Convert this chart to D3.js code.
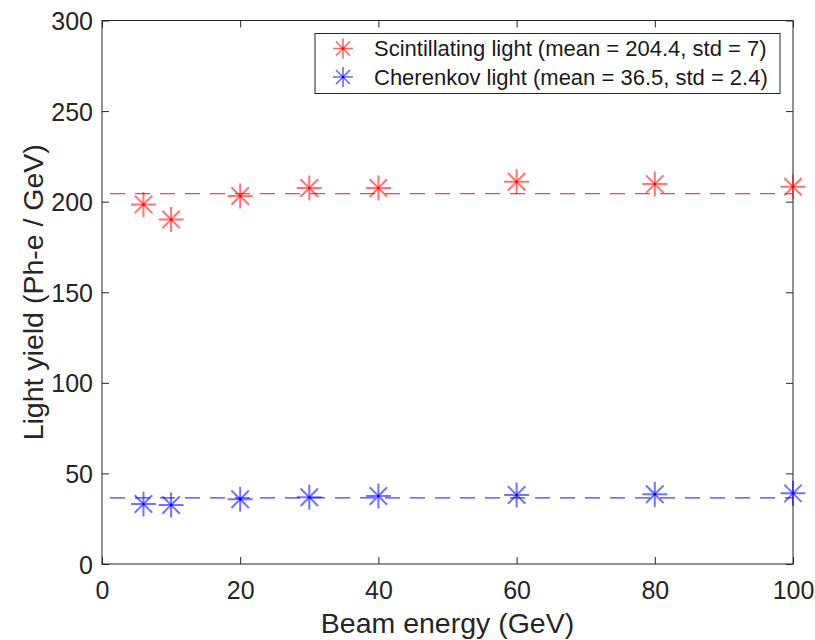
<!DOCTYPE html>
<meta charset="utf-8">
<style>
 body {
   margin: 0;
   background-color: #fff;
 }

 svg {
   font-family: "Liberation Sans", Arial, Helvetica, sans-serif;
   display: block;
 }

 .axis line, .axis path, .frame {
   stroke: #262626;
   stroke-width: 1;
   fill: none;
 }

 .axis text {
   fill: #262626;
   font-size: 25px;
 }

 .label {
   fill: #262626;
   font-size: 28.5px;
 }

 .legend text {
   fill: #1a1a1a;
   font-size: 22px;
 }
</style>

<svg width="815" height="640"></svg>

<script src="https://cdn.jsdelivr.net/npm/d3@7"></script>
<script>

 // beam energies (GeV)
 var energies = [6, 10, 20, 30, 40, 60, 80, 100]
 // light yield (Ph-e / GeV)
 var scintYield = [198.5, 190.2, 203.1, 207.5, 207.5, 211.0, 209.7, 208.2]
 var cherenYield = [33.1, 32.6, 35.7, 36.8, 37.5, 38.1, 38.5, 39.0]
 var scintMean = 204.4
 var cherenMean = 36.5
 var xTicks = [0, 20, 40, 60, 80, 100]
 var yTicks = [0, 50, 100, 150, 200, 250, 300]
 var legendLabels = ['Scintillating light (mean = 204.4, std = 7)',
                     'Cherenkov light (mean = 36.5, std = 2.4)']

 var series = [
   {name: legendLabels[0], color: '#ff0000', values: scintYield, mean: scintMean},
   {name: legendLabels[1], color: '#0000ff', values: cherenYield, mean: cherenMean}
 ]

 var svg = d3.select('svg')
 var margin = {top: 20.5, right: 22, bottom: 76, left: 102}
 var width = 815 - margin.left - margin.right
 var height = 640 - margin.top - margin.bottom

 var g = svg.append('g')
            .attr('transform', `translate(${margin.left},${margin.top})`)

 var x = d3.scaleLinear().domain([0, 100]).range([0, width])
 var y = d3.scaleLinear().domain([0, 300]).range([height, 0])

 // box around the axes
 g.append('rect')
  .attr('class', 'frame')
  .attr('width', width)
  .attr('height', height)

 var tickLen = 7

 g.append('g')
  .attr('class', 'axis')
  .attr('transform', `translate(0,${height})`)
  .call(d3.axisBottom(x).tickValues(xTicks).tickSizeInner(-tickLen).tickSizeOuter(0))
  .call(a => a.selectAll('text').attr('dy', '0.71em').attr('y', 17))

 g.append('g')
  .attr('class', 'axis')
  .call(d3.axisTop(x).tickValues(xTicks).tickSizeInner(-tickLen).tickSizeOuter(0))
  .call(a => a.selectAll('text').remove())

 g.append('g')
  .attr('class', 'axis')
  .call(d3.axisLeft(y).tickValues(yTicks).tickSizeInner(-tickLen).tickSizeOuter(0))
  .call(a => a.selectAll('text').attr('x', -9).attr('dy', '0.36em'))

 g.append('g')
  .attr('class', 'axis')
  .attr('transform', `translate(${width},0)`)
  .call(d3.axisRight(y).tickValues(yTicks).tickSizeInner(-tickLen).tickSizeOuter(0))
  .call(a => a.selectAll('text').remove())

 g.selectAll('.axis .domain').remove()

 // axis labels
 svg.append('text')
    .attr('class', 'label')
    .attr('x', margin.left + width / 2)
    .attr('y', 633)
    .attr('text-anchor', 'middle')
    .text('Beam energy (GeV)')

 svg.append('text')
    .attr('class', 'label')
    .attr('transform', `translate(43,${margin.top + height / 2}) rotate(-90)`)
    .attr('text-anchor', 'middle')
    .text('Light yield (Ph-e / GeV)')

 // asterisk marker like matlab '*'
 function asterisk(sel, r) {
   var d = r * 0.7
   sel.append('path')
      .attr('d', `M${-r},0H${r}M0,${-r}V${r}M${-d},${-d}L${d},${d}M${-d},${d}L${d},${-d}`)
 }

 series.forEach(function(s) {
   // dashed mean line
   g.append('line')
    .attr('x1', x(0))
    .attr('x2', x(100))
    .attr('y1', y(s.mean))
    .attr('y2', y(s.mean))
    .attr('stroke', s.color)
    .attr('stroke-opacity', 0.75)
    .attr('stroke-width', 1.3)
    .attr('stroke-dasharray', '15,10')
    .attr('stroke-dashoffset', 17)

   var pts = g.append('g')
              .selectAll('g')
              .data(s.values)
              .join('g')
              .attr('transform', (d, i) => `translate(${x(energies[i])},${y(d)})`)

   pts.call(asterisk, 12.5)
   pts.select('path')
      .attr('fill', 'none')
      .attr('stroke', s.color)
      .attr('stroke-opacity', 0.55)
      .attr('stroke-width', 2)
   pts.append('circle')
      .attr('r', 1.5)
      .attr('fill', s.color)
 })

 // legend
 var legend = svg.append('g')
                 .attr('class', 'legend')
                 .attr('transform', 'translate(315,33.5)')

 legend.append('rect')
       .attr('width', 465)
       .attr('height', 60)
       .attr('fill', '#fff')
       .attr('stroke', '#262626')
       .attr('stroke-width', 1)

 var rows = legend.selectAll('.row')
                  .data(series)
                  .join('g')
                  .attr('class', 'row')
                  .attr('transform', (d, i) => `translate(28,${15 + i * 28.5})`)

 rows.each(function(s) {
   var row = d3.select(this)
   row.call(asterisk, 10)
   row.select('path')
      .attr('fill', 'none')
      .attr('stroke', s.color)
      .attr('stroke-opacity', 0.6)
      .attr('stroke-width', 1.6)
   row.append('circle').attr('r', 1.3).attr('fill', s.color)
   row.append('text')
      .attr('x', 31)
      .attr('dy', '0.36em')
      .text(s.name)
 })

</script>
